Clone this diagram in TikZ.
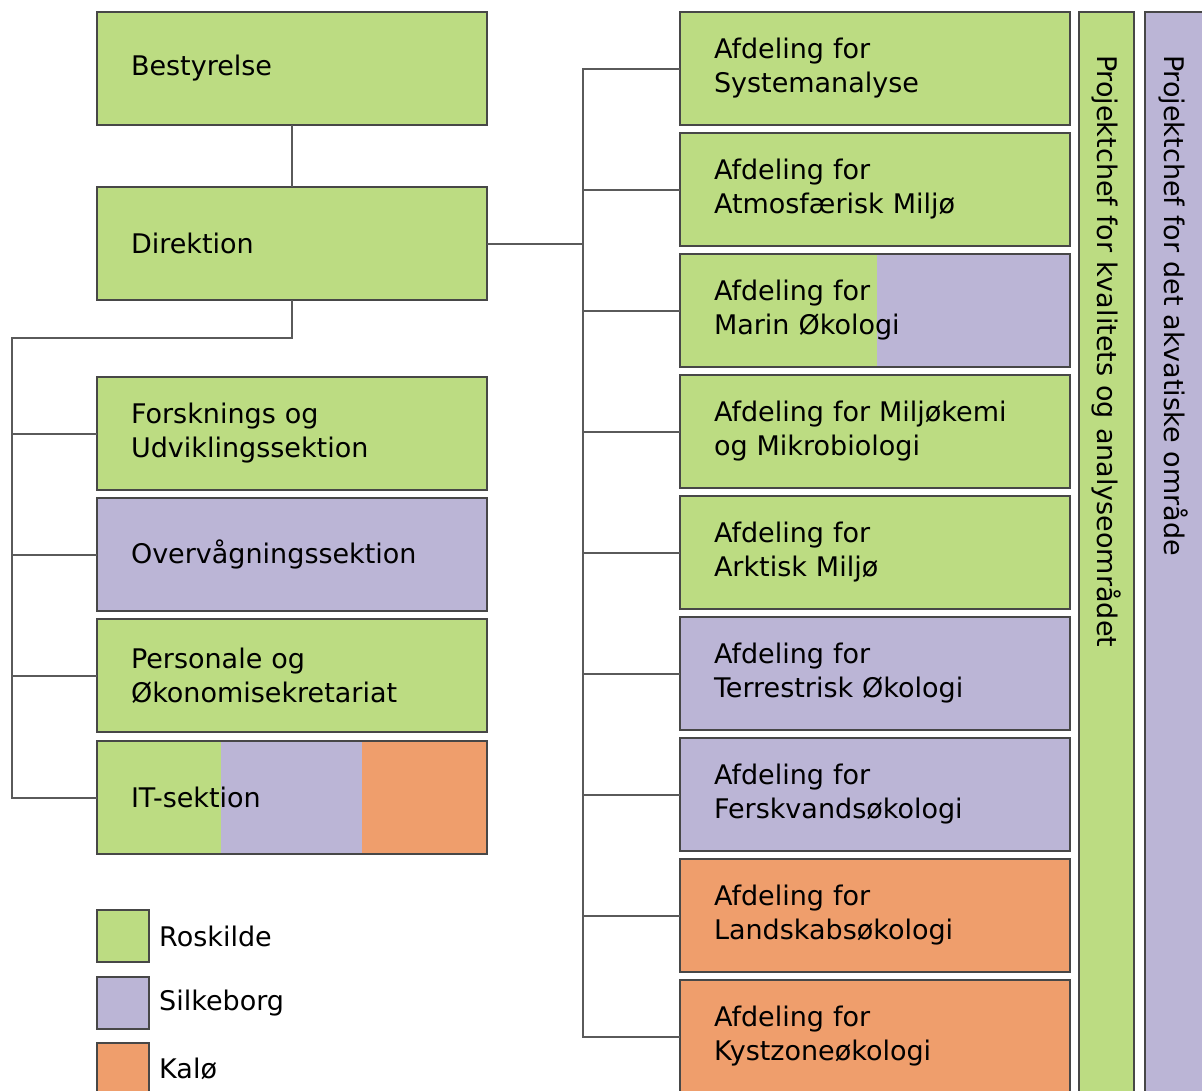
\documentclass[tikz,border=0pt]{standalone}
\usepackage{fontspec}
\setmainfont{DejaVu Sans}
\usetikzlibrary{positioning}
\definecolor{roskilde}{HTML}{BCDC82}
\definecolor{silkeborg}{HTML}{BBB5D6}
\definecolor{kalo}{HTML}{EF9E6C}
\definecolor{boxline}{HTML}{474747}
\definecolor{wirecol}{HTML}{5A5A5A}

\begin{document}
\begin{tikzpicture}[x=1pt, y=-1pt, font=\fontsize{27}{34}\selectfont,
	unit/.style={rectangle, draw=boxline, line width=2pt, outer sep=0pt, minimum width=390pt, minimum height=113pt, text width=322pt, inner xsep=34pt, align=left, anchor=north west},
	bar/.style={rectangle, draw=boxline, line width=2pt, outer sep=0pt, rotate=-90, minimum width=1120pt, minimum height=55pt, text width=1034pt, inner xsep=43pt, align=left},
	legendbox/.style={rectangle, draw=boxline, line width=2pt, outer sep=0pt, minimum size=52pt, inner sep=0pt},
	wire/.style={draw=wirecol, line width=2pt}]
	\useasboundingbox (0,0) rectangle (1202,1090);
	\clip (0,0) rectangle (1202,1090);

	% left column
	\node[unit, fill=roskilde] (best) at (97,12) {Bestyrelse};
	\node[unit, fill=roskilde, below=62pt of best] (dir) {Direktion};
	\node[unit, fill=roskilde, below=77pt of dir] (fou) {Forsknings og\\Udviklingssektion};
	\node[unit, fill=silkeborg, below=8pt of fou] (ovs) {Overvågningssektion};
	\node[unit, fill=roskilde, below=8pt of ovs] (pers) {Personale og\\Økonomisekretariat};
	\node[unit, fill=roskilde, below=9pt of pers, path picture={
		\fill[silkeborg] ([xshift=124pt]path picture bounding box.south west) rectangle ([xshift=265pt]path picture bounding box.north west);
		\fill[kalo] ([xshift=265pt]path picture bounding box.south west) rectangle (path picture bounding box.north east);}] (it) {IT-sektion};

	% right column
	\node[unit, fill=roskilde, minimum width=389pt] (sysana) at (680,12) {Afdeling for\\Systemanalyse};
	\node[unit, fill=roskilde, minimum width=389pt, below=8pt of sysana] (atmos) {Afdeling for\\Atmosfærisk Miljø};
	\node[unit, fill=roskilde, minimum width=389pt, below=8pt of atmos, path picture={
		\fill[silkeborg] ([xshift=197pt]path picture bounding box.south west) rectangle (path picture bounding box.north east);}] (marin) {Afdeling for\\Marin Økologi};
	\node[unit, fill=roskilde, minimum width=389pt, below=8pt of marin] (mikro) {Afdeling for Miljøkemi\\og Mikrobiologi};
	\node[unit, fill=roskilde, minimum width=389pt, below=8pt of mikro] (arktis) {Afdeling for\\Arktisk Miljø};
	\node[unit, fill=silkeborg, minimum width=389pt, below=8pt of arktis] (terr) {Afdeling for\\Terrestrisk Økologi};
	\node[unit, fill=silkeborg, minimum width=389pt, below=8pt of terr] (fersk) {Afdeling for\\Ferskvandsøkologi};
	\node[unit, fill=kalo, minimum width=389pt, below=8pt of fersk] (lands) {Afdeling for\\Landskabsøkologi};
	\node[unit, fill=kalo, minimum width=389pt, below=8pt of lands] (kyst) {Afdeling for\\Kystzoneøkologi};

	% project managers
	\node[bar, fill=roskilde] (kval) at (1106.5,572) {Projektchef for kvalitets og analyseområdet};
	\node[bar, fill=silkeborg, minimum height=58pt] (akvat) at (1174,572) {Projektchef for det akvatiske område};

	% legend
	\node[legendbox, fill=roskilde, anchor=north west] (legros) at (97,910) {};
	\node[legendbox, fill=silkeborg, below=15pt of legros] (legsilk) {};
	\node[legendbox, fill=kalo, below=14pt of legsilk] (legkalo) {};
	\node[right=10pt of legros, inner xsep=0pt] (txtros) {Roskilde};
	\node[right=10pt of legsilk, inner xsep=0pt] (txtsilk) {Silkeborg};
	\node[right=10pt of legkalo, inner xsep=0pt] (txtkalo) {Kalø};

	% connectors
	\coordinate (ltrunk) at (12,338);
	\coordinate (rtrunk) at (583,0);
	\draw[wire] (best) -- (dir);
	\draw[wire] (dir.south) |- (ltrunk) |- (it.west);
	\foreach \u in {fou, ovs, pers}
		\draw[wire] (ltrunk |- \u.west) -- (\u.west);
	\draw[wire] (dir.east) -- (dir.east -| rtrunk);
	\draw[wire] (sysana.west) -| (rtrunk |- kyst.west) -- (kyst.west);
	\foreach \u in {atmos, marin, mikro, arktis, terr, fersk, lands}
		\draw[wire] (rtrunk |- \u.west) -- (\u.west);
\end{tikzpicture}
\end{document}
